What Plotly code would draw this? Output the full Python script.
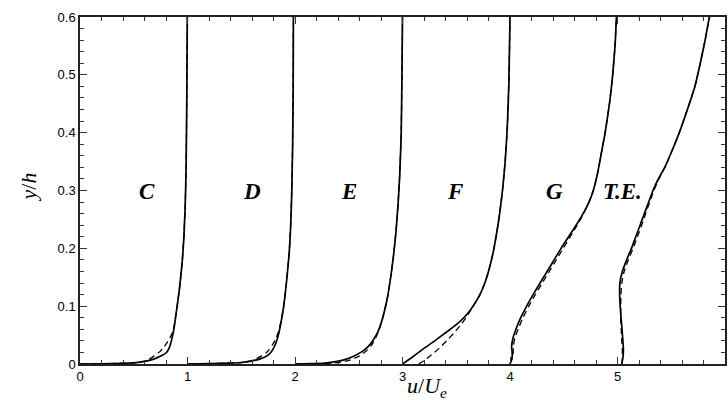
import plotly.graph_objects as go

# ---- data (u/Ue profiles vs y/h; each station shifted by its offset) ----
stations = ["C", "D", "E", "F", "G", "T.E."]
offsets = [0, 1, 2, 3, 4, 5]
label_u = [0.62, 1.60, 2.505, 3.49, 4.415, 5.046]
label_y = [0.298, 0.298, 0.298, 0.298, 0.298, 0.298]

C_solid_u = [0, 0.2, 0.4, 0.52, 0.6, 0.67, 0.72, 0.76, 0.80, 0.83, 0.85, 0.875, 0.90, 0.925, 0.95, 0.965, 0.978, 0.987, 0.993, 0.998]
C_solid_y = [0, 0.0004, 0.0012, 0.0025, 0.0045, 0.0075, 0.011, 0.0145, 0.019, 0.028, 0.04, 0.062, 0.095, 0.13, 0.175, 0.215, 0.27, 0.34, 0.45, 0.6]
C_dash_u = [0, 0.3, 0.5, 0.58, 0.64, 0.69, 0.74, 0.78, 0.81, 0.835, 0.855, 0.875, 0.90, 0.925, 0.95, 0.965, 0.978, 0.987, 0.993, 0.998]
C_dash_y = [0, 0.0008, 0.002, 0.004, 0.008, 0.014, 0.021, 0.029, 0.037, 0.045, 0.052, 0.065, 0.095, 0.13, 0.175, 0.215, 0.27, 0.34, 0.45, 0.6]

D_solid_u = [0, 0.2, 0.4, 0.52, 0.6, 0.67, 0.72, 0.76, 0.79, 0.82, 0.845, 0.87, 0.895, 0.92, 0.945, 0.96, 0.97, 0.978, 0.983, 0.985]
D_solid_y = [0, 0.0005, 0.0015, 0.003, 0.0055, 0.0085, 0.012, 0.017, 0.024, 0.035, 0.05, 0.072, 0.1, 0.14, 0.19, 0.24, 0.3, 0.38, 0.48, 0.6]
D_dash_u = [0, 0.3, 0.5, 0.58, 0.64, 0.69, 0.73, 0.76, 0.79, 0.82, 0.845, 0.87, 0.895, 0.92, 0.945, 0.96, 0.97, 0.978, 0.983, 0.985]
D_dash_y = [0, 0.001, 0.0025, 0.005, 0.009, 0.014, 0.019, 0.025, 0.033, 0.043, 0.055, 0.074, 0.1, 0.14, 0.19, 0.24, 0.3, 0.38, 0.48, 0.6]

E_solid_u = [0, 0.15, 0.28, 0.38, 0.47, 0.55, 0.62, 0.68, 0.73, 0.77, 0.80, 0.83, 0.86, 0.89, 0.915, 0.94, 0.96, 0.975, 0.988, 0.995, 1.0]
E_solid_y = [0, 0.0005, 0.0015, 0.004, 0.008, 0.014, 0.021, 0.03, 0.042, 0.055, 0.07, 0.09, 0.115, 0.15, 0.185, 0.23, 0.28, 0.33, 0.40, 0.5, 0.6]
E_dash_u = [0, 0.2, 0.35, 0.45, 0.53, 0.6, 0.66, 0.71, 0.75, 0.78, 0.805, 0.83, 0.86, 0.89, 0.915, 0.94, 0.96, 0.975, 0.988, 0.995, 1.0]
E_dash_y = [0, 0.0005, 0.0015, 0.004, 0.008, 0.014, 0.022, 0.032, 0.045, 0.058, 0.072, 0.09, 0.115, 0.15, 0.185, 0.23, 0.28, 0.33, 0.40, 0.5, 0.6]

F_solid_u = [0, 0.1, 0.2, 0.3, 0.4, 0.5, 0.57, 0.63, 0.68, 0.72, 0.76, 0.80, 0.84, 0.87, 0.90, 0.93, 0.955, 0.975, 0.99, 1.0]
F_solid_y = [0, 0.013, 0.027, 0.04, 0.054, 0.068, 0.08, 0.093, 0.107, 0.12, 0.137, 0.16, 0.19, 0.22, 0.255, 0.3, 0.35, 0.41, 0.49, 0.6]
F_dash_u = [0.15, 0.2, 0.27, 0.34, 0.41, 0.48, 0.54, 0.59, 0.635, 0.68, 0.72, 0.76, 0.80, 0.84, 0.87, 0.90, 0.93, 0.955, 0.975, 0.99, 1.0]
F_dash_y = [0, 0.006, 0.016, 0.027, 0.04, 0.054, 0.067, 0.08, 0.093, 0.107, 0.12, 0.137, 0.16, 0.19, 0.22, 0.255, 0.3, 0.35, 0.41, 0.49, 0.6]

G_solid_u = [0.0, 0.018, 0.02, 0.015, 0.028, 0.055, 0.10, 0.155, 0.215, 0.28, 0.345, 0.41, 0.475, 0.545, 0.615, 0.68, 0.735, 0.775, 0.815, 0.845, 0.885, 0.925, 0.955, 0.977, 0.99]
G_solid_y = [0, 0.01, 0.02, 0.03, 0.045, 0.06, 0.08, 0.10, 0.12, 0.14, 0.16, 0.18, 0.20, 0.22, 0.24, 0.26, 0.28, 0.30, 0.33, 0.36, 0.40, 0.45, 0.50, 0.55, 0.6]
G_dash_u = [0.0, 0.022, 0.03, 0.03, 0.045, 0.075, 0.12, 0.175, 0.235, 0.30, 0.365, 0.43, 0.495, 0.56, 0.625, 0.685, 0.735, 0.775, 0.815, 0.845, 0.885, 0.925, 0.955, 0.977, 0.99]
G_dash_y = G_solid_y

TE_solid_u = [0.04, 0.05, 0.055, 0.05, 0.042, 0.033, 0.025, 0.02, 0.022, 0.045, 0.085, 0.13, 0.17, 0.21, 0.25, 0.29, 0.33, 0.38, 0.44, 0.51, 0.575, 0.65, 0.72, 0.77, 0.815, 0.855]
TE_solid_y = [0, 0.01, 0.025, 0.04, 0.06, 0.08, 0.10, 0.12, 0.14, 0.16, 0.18, 0.20, 0.22, 0.24, 0.26, 0.28, 0.30, 0.32, 0.34, 0.37, 0.40, 0.44, 0.48, 0.52, 0.56, 0.6]
TE_dash_u = [0.04, 0.045, 0.045, 0.04, 0.034, 0.03, 0.03, 0.032, 0.04, 0.062, 0.10, 0.145, 0.185, 0.225, 0.262, 0.30, 0.338, 0.385, 0.44, 0.51, 0.575, 0.65, 0.72, 0.77, 0.815, 0.855]
TE_dash_y = TE_solid_y

solid_u = [C_solid_u, D_solid_u, E_solid_u, F_solid_u, G_solid_u, TE_solid_u]
solid_y = [C_solid_y, D_solid_y, E_solid_y, F_solid_y, G_solid_y, TE_solid_y]
dash_u = [C_dash_u, D_dash_u, E_dash_u, F_dash_u, G_dash_u, TE_dash_u]
dash_y = [C_dash_y, D_dash_y, E_dash_y, F_dash_y, G_dash_y, TE_dash_y]

x_ticks = [0, 1, 2, 3, 4, 5, 6]
y_ticks = [0, 0.1, 0.2, 0.3, 0.4, 0.5, 0.6]

fig = go.Figure()
for k in range(len(stations)):
    off = offsets[k]
    fig.add_trace(go.Scatter(
        x=[u + off for u in dash_u[k]], y=dash_y[k], mode="lines",
        line=dict(color="black", width=1.3, dash="6px,4px", shape="spline", smoothing=0.5),
        showlegend=False, hoverinfo="skip"))
    fig.add_trace(go.Scatter(
        x=[u + off for u in solid_u[k]], y=solid_y[k], mode="lines",
        line=dict(color="black", width=1.7, shape="spline", smoothing=0.5),
        showlegend=False, hoverinfo="skip"))

for k, name in enumerate(stations):
    fig.add_annotation(x=label_u[k], y=label_y[k], xref="x", yref="y", text=name,
                       showarrow=False, xanchor="center", yanchor="middle",
                       font=dict(family="Liberation Serif", size=23, color="black",
                                 weight="bold", style="italic"))

# axis titles
fig.add_annotation(x=0.538, y=-0.066, xref="paper", yref="paper",
                   text="<i>u</i>/<i>U</i><sub><i>e</i></sub>", showarrow=False,
                   xanchor="center", yanchor="middle",
                   font=dict(family="Liberation Serif", size=22, color="black"))
fig.add_annotation(x=-0.080, y=0.51, xref="paper", yref="paper",
                   text="<i>y</i>/<i>h</i>", showarrow=False, textangle=-90,
                   xanchor="center", yanchor="middle",
                   font=dict(family="Liberation Serif", size=22, color="black"))

axis_common = dict(showgrid=False, zeroline=False, showline=True, linecolor="#222",
                   linewidth=1.5, mirror="allticks", ticks="inside", ticklen=7,
                   tickwidth=1.2, tickcolor="#333",
                   tickfont=dict(family="Liberation Sans", size=13, color="black"))

fig.update_xaxes(range=[0, 6], tickvals=x_ticks, ticktext=[str(v) for v in x_ticks],
                 ticklabelstandoff=0,
                 minor=dict(dtick=0.2, ticks="inside", ticklen=4, tickcolor="#333", tickwidth=1),
                 **axis_common)
fig.update_yaxes(range=[0, 0.6], tickvals=y_ticks, ticktext=[("0" if v == 0 else str(v)) for v in y_ticks],
                 minor=dict(dtick=0.02, ticks="inside", ticklen=4, tickcolor="#333", tickwidth=1),
                 **axis_common)

fig.update_layout(width=728, height=400, margin=dict(l=80, r=1, t=17, b=36),
                  plot_bgcolor="white", paper_bgcolor="white")

fig.write_html("out.html")
